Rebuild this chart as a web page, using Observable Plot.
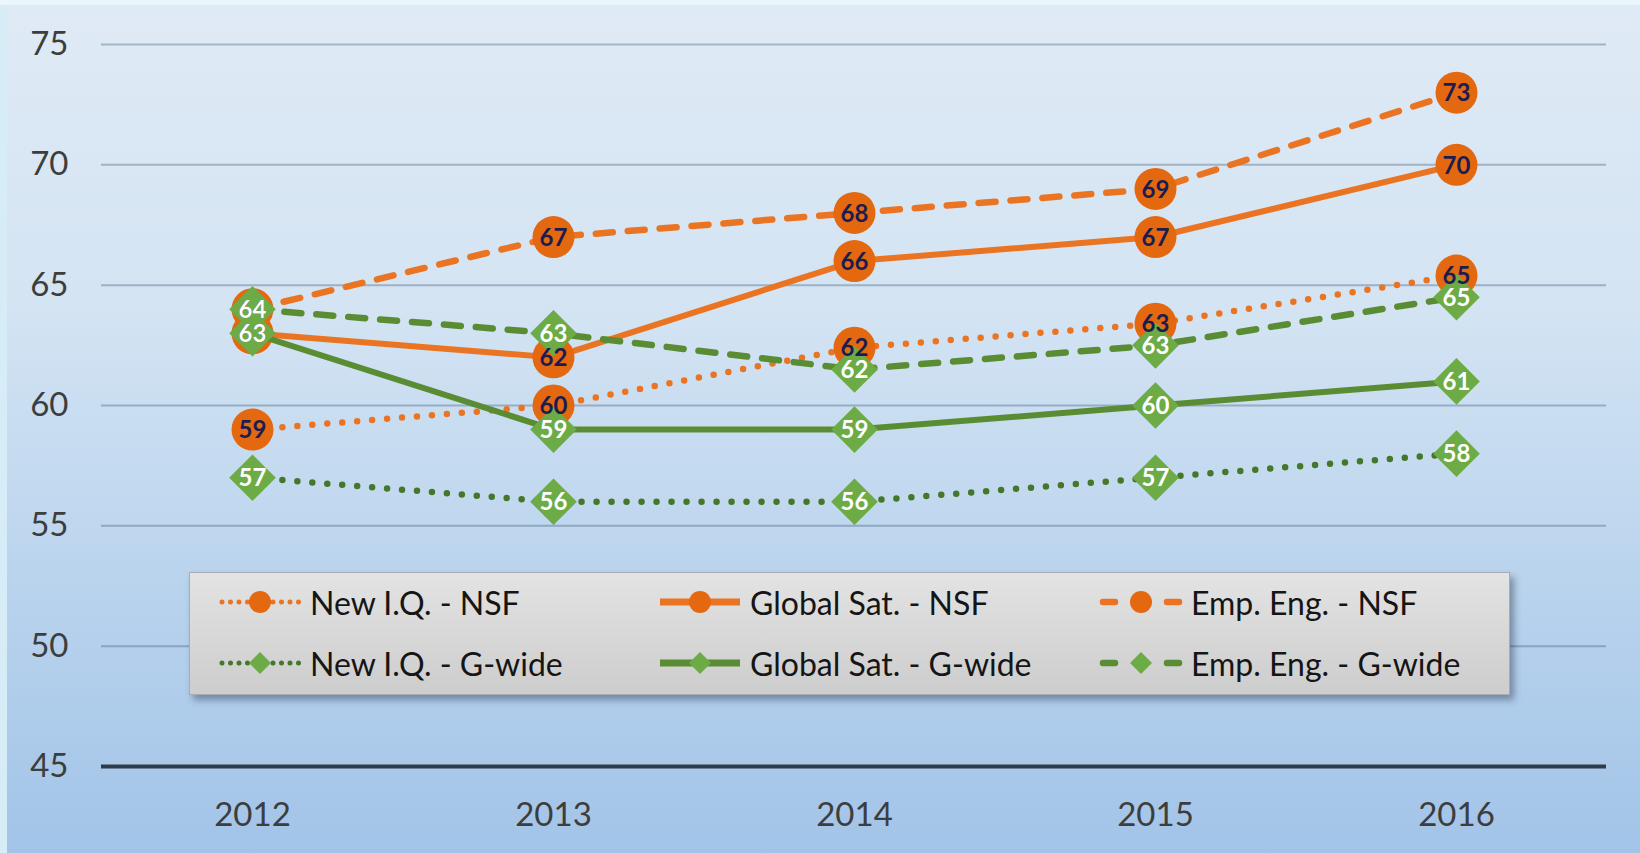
<!DOCTYPE html>
<html>
<head>
<meta charset="utf-8">
<script src="https://cdn.jsdelivr.net/npm/d3@7"></script>
<script src="https://cdn.jsdelivr.net/npm/@observablehq/plot@0.6"></script>
<style>
  html, body { margin: 0; padding: 0; overflow: hidden; }
  body { width: 1640px; height: 853px; background: #d6ecf6; font-family: Lato, "Open Sans", sans-serif; }
  #wrap { position: relative; width: 1640px; height: 853px; }
  #panel { position: absolute; left: 7px; top: 5px; right: 0; bottom: 0;
           background: linear-gradient(to bottom, #dfeaf5 0%, #d4e4f3 35%, #bcd5ee 65%, #a2c4e8 100%); }
  #topstrip { position: absolute; left: 0; top: 0; right: 0; height: 5px; background: #e9f6fc; }
  #chart { position: absolute; left: 0; top: 0; }
  #legend { position: absolute; left: 189px; top: 572px; width: 1319px; height: 121px;
            background: linear-gradient(to bottom, #e3e3e3, #cdcdcd);
            border: 1px solid #a9adb3; box-shadow: 4px 5px 7px rgba(40,50,70,0.45); }
  .item { position: absolute; height: 40px; display: flex; align-items: center; }
  .item span { font-size: 32px; color: #151515; margin-left: 8px; white-space: nowrap; }
</style>
</head>
<body>
<div id="wrap">
  <div id="topstrip"></div>
  <div id="panel"></div>
  <div id="chart"></div>
  <div id="legend"></div>
</div>
<script>
// ---- data ----
const years = ["2012", "2013", "2014", "2015", "2016"];
const yTicks = [45, 50, 55, 60, 65, 70, 75];
const seriesNames = ["New I.Q. - NSF", "Global Sat. - NSF", "Emp. Eng. - NSF",
                     "New I.Q. - G-wide", "Global Sat. - G-wide", "Emp. Eng. - G-wide"];
const newIQ_NSF     = [59, 60, 62.4, 63.4, 65.4];
const globalSat_NSF = [63, 62, 66, 67, 70];
const empEng_NSF    = [64, 67, 68, 69, 73];
const newIQ_G       = [57, 56, 56, 57, 58];
const globalSat_G   = [63, 59, 59, 60, 61];
const empEng_G      = [64, 63, 61.5, 62.5, 64.5];

// ---- styles ----
const ORANGE_LINE = "#ea7422", ORANGE_DOT = "#e4680f", NAVY = "#1b1d4f";
const GREEN_LINE = "#5a8d33", GREEN_DOT = "#6cab45", GREEN_DOTTED = "#45772a";
const styles = [
  {stroke: ORANGE_LINE, dash: "0,15", cap: "round", width: 6.5, fill: ORANGE_DOT, marker: "circle", label: NAVY},
  {stroke: ORANGE_LINE, dash: null, cap: "butt", width: 6, fill: ORANGE_DOT, marker: "circle", label: NAVY},
  {stroke: ORANGE_LINE, dash: "17,15", cap: "round", width: 6.5, fill: ORANGE_DOT, marker: "circle", label: NAVY},
  {stroke: GREEN_DOTTED, dash: "0,15", cap: "round", width: 6.5, fill: GREEN_DOT, marker: "diamond2", label: "#ffffff"},
  {stroke: GREEN_LINE, dash: null, cap: "butt", width: 6, fill: GREEN_DOT, marker: "diamond2", label: "#ffffff"},
  {stroke: GREEN_LINE, dash: "17,15", cap: "round", width: 6.5, fill: GREEN_DOT, marker: "diamond2", label: "#ffffff"}
];
const seriesValues = [newIQ_NSF, globalSat_NSF, empEng_NSF, newIQ_G, globalSat_G, empEng_G];
const series = seriesNames.map((name, k) => ({
  name, ...styles[k],
  data: years.map((yr, i) => ({year: yr, v: seriesValues[k][i], lbl: String(Math.round(seriesValues[k][i]))}))
}));

function lineMark(s) {
  const o = {x: "year", y: "v", stroke: s.stroke, strokeWidth: s.width, strokeLinecap: s.cap, strokeLinejoin: "round"};
  if (s.dash) o.strokeDasharray = s.dash;
  return Plot.line(s.data, o);
}
function dotMark(s) {
  return s.marker === "circle"
    ? Plot.dot(s.data, {x: "year", y: "v", r: 21, fill: s.fill, stroke: "none"})
    : Plot.dot(s.data, {x: "year", y: "v", symbol: "diamond2", r: 21, fill: s.fill, stroke: "none"});
}
function labelMark(s) {
  return Plot.text(s.data, {x: "year", y: "v", text: "lbl", fill: s.label, fontSize: 24, fontWeight: "bold", dy: 1});
}

const orange = series.slice(0, 3), green = series.slice(3);
const marks = [
  Plot.ruleY(yTicks.filter(t => t > 45), {stroke: "#3e5675", strokeOpacity: 0.36, strokeWidth: 2}),
  Plot.ruleY([45], {stroke: "#2d3b4a", strokeWidth: 4}),
  Plot.axisY({ticks: yTicks, tickSize: 0, tickPadding: 33, fontSize: 33, fill: "#3d3d3d", label: null}),
  Plot.axisX({tickSize: 0, tickPadding: 36, fontSize: 33, fill: "#3d3d3d", label: null}),
  ...orange.map(lineMark), ...orange.map(dotMark),
  ...green.map(lineMark), ...green.map(dotMark),
  ...orange.map(labelMark), ...green.map(labelMark)
];

const chart = Plot.plot({
  width: 1640, height: 853,
  marginLeft: 101, marginRight: 34, marginTop: 44, marginBottom: 87,
  style: {background: "transparent", fontFamily: "Lato, 'Open Sans', sans-serif", overflow: "visible"},
  x: {type: "point", domain: years, padding: 0.5, label: null},
  y: {domain: [45, 75], label: null},
  marks
});
document.getElementById("chart").appendChild(chart);

// ---- legend ----
const legend = document.getElementById("legend");
const colX = [28, 468, 909];
const rowY = [9, 70];
series.forEach((s, idx) => {
  const col = idx % 3, row = Math.floor(idx / 3);
  const item = document.createElement("div");
  item.className = "item";
  item.style.left = colX[col] + "px";
  item.style.top = rowY[row] + "px";
  const ns = "http://www.w3.org/2000/svg";
  const svg = document.createElementNS(ns, "svg");
  svg.setAttribute("width", 84); svg.setAttribute("height", 40);
  const addLine = (x1, x2, w, dash) => {
    const ln = document.createElementNS(ns, "line");
    ln.setAttribute("x1", x1); ln.setAttribute("x2", x2);
    ln.setAttribute("y1", 20); ln.setAttribute("y2", 20);
    ln.setAttribute("stroke", s.stroke); ln.setAttribute("stroke-width", w);
    ln.setAttribute("stroke-linecap", s.cap === "round" ? "round" : "butt");
    if (dash) ln.setAttribute("stroke-dasharray", dash);
    svg.appendChild(ln);
  };
  if (s.dash === "0,15") addLine(4, 82, 5, "0,8.5");
  else if (s.dash) { addLine(4, 16, 6.5); addLine(68, 80, 6.5); }
  else addLine(2, 82, 7);
  let m;
  if (s.marker === "circle") {
    m = document.createElementNS(ns, "circle");
    m.setAttribute("cx", 42); m.setAttribute("cy", 20); m.setAttribute("r", 11);
  } else {
    m = document.createElementNS(ns, "path");
    m.setAttribute("d", "M42,9L53,20L42,31L31,20Z");
  }
  m.setAttribute("fill", s.fill);
  svg.appendChild(m);
  item.appendChild(svg);
  const t = document.createElement("span");
  t.textContent = s.name;
  item.appendChild(t);
  legend.appendChild(item);
});
</script>
</body>
</html>
